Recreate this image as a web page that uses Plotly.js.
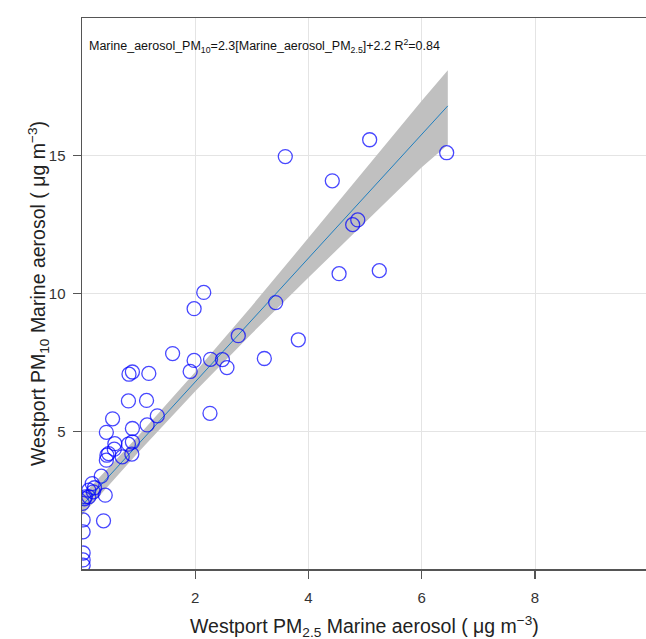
<!DOCTYPE html>
<html>
<head>
<meta charset="utf-8">
<script src="https://cdn.plot.ly/plotly-3.0.1.min.js"></script>
<style>html,body{margin:0;padding:0;background:#fff;}#chart{width:646px;height:639px;}</style>
</head>
<body>
<div id="chart"></div>
<script>
// Observed points: PM2.5 marine aerosol (x) vs PM10 marine aerosol (y)
const pm25 = [5.08, 3.59, 4.42, 6.44, 4.78, 4.87, 4.54, 5.25, 3.42, 2.15, 1.98, 2.76, 3.82, 1.98, 2.27, 2.48, 2.56, 3.22, 1.91, 1.60, 2.26, 0.89, 0.83, 1.18, 0.82, 1.14, 0.54, 1.33, 1.15, 0.89, 0.43, 0.58, 0.89, 0.82, 0.57, 0.47, 0.88, 0.44, 0.43, 0.71, 0.34, 0.18, 0.41, 0.20, 0.12, 0.06, 0.01, 0.12, 0.38, 0.02, 0.02, 0.02, 0.02, 0.02, 0.04, 0.22];
const pm10 = [15.58, 14.97, 14.09, 15.11, 12.50, 12.67, 10.72, 10.83, 9.67, 10.04, 9.45, 8.47, 8.32, 7.57, 7.61, 7.60, 7.31, 7.64, 7.17, 7.82, 5.65, 7.15, 7.07, 7.10, 6.10, 6.12, 5.45, 5.56, 5.23, 5.10, 4.96, 4.55, 4.61, 4.53, 4.35, 4.19, 4.17, 4.13, 3.95, 4.07, 3.37, 3.10, 2.68, 2.80, 2.86, 2.62, 2.38, 2.62, 1.75, 1.78, 1.35, 0.58, 0.33, 0.14, 2.55, 2.95];

// Fitted line and confidence band
const fitX = [0, 6.46];
const fitY = [2.3, 16.81];
const bandX = [0, 1, 2, 3, 4, 5, 6, 6.46];
const bandLower = [1.95, 4.25, 6.45, 8.55, 10.58, 12.57, 14.58, 15.40];
const bandUpper = [2.65, 4.85, 7.15, 9.55, 12.02, 14.53, 17.00, 18.10];

const xTickVals = [2, 4, 6, 8];
const xTickText = ['2', '4', '6', '8'];
const yTickVals = [5, 10, 15];
const yTickText = ['5', '10', '15'];

const eqText = 'Marine_aerosol_PM<sub>10</sub>=2.3[Marine_aerosol_PM<sub>2.5</sub>]+2.2 R<sup>2</sup>=0.84';
const xTitle = 'Westport PM<sub>2.5</sub> Marine aerosol ( \u03bcg m<sup>\u22123</sup>)';
const yTitle = 'Westport PM<sub>10</sub> Marine aerosol ( \u03bcg m<sup>\u22123</sup>)';

const traces = [
  {x: bandX, y: bandLower, type: 'scatter', mode: 'lines', line: {width: 0, color: 'rgba(0,0,0,0)'}, hoverinfo: 'skip', showlegend: false},
  {x: bandX, y: bandUpper, type: 'scatter', mode: 'lines', fill: 'tonexty', fillcolor: 'rgb(192,192,192)', line: {width: 0, color: 'rgba(0,0,0,0)'}, hoverinfo: 'skip', showlegend: false},
  {x: fitX, y: fitY, type: 'scatter', mode: 'lines', line: {width: 1, color: '#1f7fbf'}, showlegend: false},
  {x: pm25, y: pm10, type: 'scatter', mode: 'markers', marker: {symbol: 'circle-open', size: 14, color: 'rgba(0,0,255,0.72)', line: {width: 1.3, color: 'rgba(0,0,255,0.72)'}}, showlegend: false}
];

const layout = {
  width: 646, height: 639,
  margin: {l: 82, r: 0, t: 18, b: 70},
  paper_bgcolor: '#fff', plot_bgcolor: '#fff',
  font: {family: 'Liberation Sans, Arial, sans-serif', color: '#222'},
  showlegend: false,
  xaxis: {
    range: [0, 9.96], tickvals: xTickVals, ticktext: xTickText,
    showgrid: true, gridcolor: '#e4e4e4', gridwidth: 1, zeroline: false,
    showline: true, linecolor: '#555', linewidth: 1.5, mirror: true,
    ticks: 'outside', ticklen: 8, tickcolor: '#555', tickwidth: 1.2,
    tickfont: {size: 15, color: '#333'}, ticklabelstandoff: 6
  },
  yaxis: {
    range: [0, 20], tickvals: yTickVals, ticktext: yTickText,
    showgrid: true, gridcolor: '#e4e4e4', gridwidth: 1, zeroline: false,
    showline: true, linecolor: '#555', linewidth: 1.5,
    ticks: 'outside', ticklen: 8, tickcolor: '#555', tickwidth: 1.2,
    tickfont: {size: 15, color: '#333'}, ticklabelstandoff: 4
  },
  annotations: [
    {text: eqText, xref: 'paper', yref: 'paper', x: 0.009, y: 0.949, xanchor: 'left', yanchor: 'middle', showarrow: false, font: {size: 12.5, color: '#111'}},
    {text: xTitle, xref: 'paper', yref: 'paper', x: 0.5, y: -0.105, xanchor: 'center', yanchor: 'middle', showarrow: false, font: {size: 19.5, color: '#222'}},
    {text: yTitle, xref: 'paper', yref: 'paper', x: -0.077, y: 0.5, xanchor: 'center', yanchor: 'middle', textangle: -90, showarrow: false, font: {size: 19.5, color: '#222'}}
  ]
};

Plotly.newPlot('chart', traces, layout, {staticPlot: true, displayModeBar: false});
</script>
</body>
</html>
